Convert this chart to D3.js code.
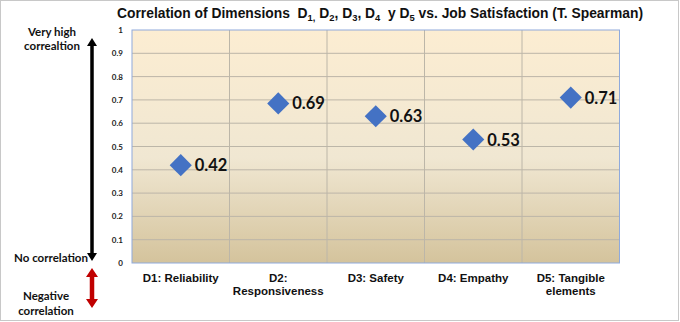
<!DOCTYPE html>
<html><head><meta charset="utf-8">
<script src="https://cdn.jsdelivr.net/npm/d3@7/dist/d3.min.js"></script>
<style>body{margin:0;background:#fff}svg{display:block}</style>
</head><body>
<script>
const categories = ["D1: Reliability", "D2:|Responsiveness", "D3: Safety", "D4: Empathy", "D5: Tangible|elements"];
const values = [0.42, 0.685, 0.63, 0.53, 0.71];
const labels = ["0.42", "0.69", "0.63", "0.53", "0.71"];
const yTicks = [0, 0.1, 0.2, 0.3, 0.4, 0.5, 0.6, 0.7, 0.8, 0.9, 1];

const W = 680, H = 322;
const m = {left: 132, right: 60.5, top: 30, bottom: 59};
const svg = d3.select("body").append("svg").attr("width", W).attr("height", H);

// outer border
svg.append("rect").attr("x", 0.5).attr("y", 0.5).attr("width", 678).attr("height", 320)
  .attr("fill", "#fff").attr("stroke", "#c8c8c8");

const x = d3.scaleBand().domain(categories).range([m.left, W - m.right]);
const y = d3.scaleLinear().domain([0, 1]).range([H - m.bottom, m.top]);

const defs = svg.append("defs");
const g = defs.append("linearGradient").attr("id", "bg").attr("x1", 0).attr("y1", 0).attr("x2", 0).attr("y2", 1);
g.append("stop").attr("offset", "0%").attr("stop-color", "#fcedd2");
g.append("stop").attr("offset", "55%").attr("stop-color", "#f0e7d2");
g.append("stop").attr("offset", "100%").attr("stop-color", "#d4c39c");

svg.append("rect").attr("x", m.left).attr("y", m.top)
  .attr("width", W - m.right - m.left).attr("height", H - m.bottom - m.top)
  .attr("fill", "url(#bg)");

// horizontal gridlines
svg.append("g").selectAll("line").data(yTicks.slice(1, -1)).join("line")
  .attr("x1", m.left).attr("x2", W - m.right)
  .attr("y1", d => y(d)).attr("y2", d => y(d))
  .attr("stroke", "#bcb6a8").attr("stroke-width", 1);
// vertical gridlines
svg.append("g").selectAll("line").data(categories.slice(1)).join("line")
  .attr("x1", d => x(d)).attr("x2", d => x(d))
  .attr("y1", m.top).attr("y2", H - m.bottom)
  .attr("stroke", "#bcb6a8").attr("stroke-width", 1);

svg.append("rect").attr("x", m.left).attr("y", m.top)
  .attr("width", W - m.right - m.left).attr("height", H - m.bottom - m.top)
  .attr("fill", "none").attr("stroke", "#8faadc").attr("stroke-width", 1);

// y axis labels
const yAxis = d3.axisLeft(y).tickValues(yTicks).tickSize(0).tickPadding(9).tickFormat(d => d3.format("")(+d.toFixed(1)));
const ya = svg.append("g").attr("transform", `translate(${m.left},0)`).call(yAxis);
ya.select(".domain").remove();
ya.selectAll("text").attr("font-family", "Lato, 'Open Sans', sans-serif").attr("font-weight", "bold")
  .attr("font-size", 8).attr("fill", "#222");

// x axis labels
const xl = svg.append("g");
categories.forEach(c => {
  const t = xl.append("text").attr("x", x(c) + x.bandwidth() / 2).attr("y", 282)
    .attr("text-anchor", "middle").attr("font-family", "'Liberation Sans', Arial, sans-serif")
    .attr("font-weight", "bold").attr("font-size", 11.5).attr("fill", "#111");
  c.split("|").forEach((p, i) => t.append("tspan").attr("x", x(c) + x.bandwidth() / 2).attr("dy", i ? 13 : 0).text(p));
});

// points
const pts = svg.append("g");
pts.selectAll("path").data(values).join("path")
  .attr("d", d3.symbol().type(d3.symbolSquare).size(245))
  .attr("transform", (d, i) => `translate(${x(categories[i]) + x.bandwidth() / 2},${y(d)}) rotate(45)`)
  .attr("fill", "#4472c4");
pts.selectAll("text").data(values).join("text")
  .attr("x", (d, i) => x(categories[i]) + x.bandwidth() / 2 + 14)
  .attr("y", d => y(d) + 6)
  .attr("font-family", "Lato, 'Open Sans', sans-serif").attr("font-weight", "bold")
  .attr("font-size", 16.5).attr("fill", "#111")
  .text((d, i) => labels[i]);

// title
const title = svg.append("text").attr("x", 380).attr("y", 18).attr("text-anchor", "middle")
  .attr("font-family", "'Liberation Sans', Arial, sans-serif").attr("font-weight", "bold")
  .attr("font-size", 14).attr("fill", "#111");
const parts = [["Correlation of Dimensions\u00a0 D", ""], ["1,", "sub"], [" D", ""], ["2", "sub"], [", D", ""], ["3", "sub"], [", D", ""], ["4", "sub"], ["\u00a0 y D", ""], ["5", "sub"], [" vs. Job Satisfaction (T. Spearman)", ""]];
parts.forEach(([t, s]) => {
  const ts = title.append("tspan").text(t);
  if (s) ts.attr("font-size", 9.5).attr("dy", 3); else ts.attr("dy", title.selectAll("tspan").size() > 1 ? -3 : 0);
});
title.attr("textLength", 526).attr("lengthAdjust", "spacingAndGlyphs");

// left annotations
const ann = svg.append("g").attr("font-family", "Lato, 'Open Sans', sans-serif").attr("font-weight", "bold")
  .attr("font-size", 11.5).attr("fill", "#111").attr("text-anchor", "middle");
ann.append("text").attr("x", 52).attr("y", 36).text("Very high");
ann.append("text").attr("x", 52).attr("y", 50).text("correaltion");
ann.append("text").attr("x", 51).attr("y", 262).text("No correlation");
ann.append("text").attr("x", 46).attr("y", 300).text("Negative");
ann.append("text").attr("x", 46).attr("y", 315).text("correlation");

function dblArrow(cx, y1, y2, shaft, headW, headH, color) {
  const p = d3.path();
  p.moveTo(cx, y1);
  p.lineTo(cx + headW / 2, y1 + headH);
  p.lineTo(cx + shaft / 2, y1 + headH);
  p.lineTo(cx + shaft / 2, y2 - headH);
  p.lineTo(cx + headW / 2, y2 - headH);
  p.lineTo(cx, y2);
  p.lineTo(cx - headW / 2, y2 - headH);
  p.lineTo(cx - shaft / 2, y2 - headH);
  p.lineTo(cx - shaft / 2, y1 + headH);
  p.lineTo(cx - headW / 2, y1 + headH);
  p.closePath();
  svg.append("path").attr("d", p.toString()).attr("fill", color);
}
dblArrow(92, 38, 261, 3.5, 10, 8, "#000");
dblArrow(92, 268, 308, 4.5, 12, 9, "#c00000");
</script>
</body></html>
